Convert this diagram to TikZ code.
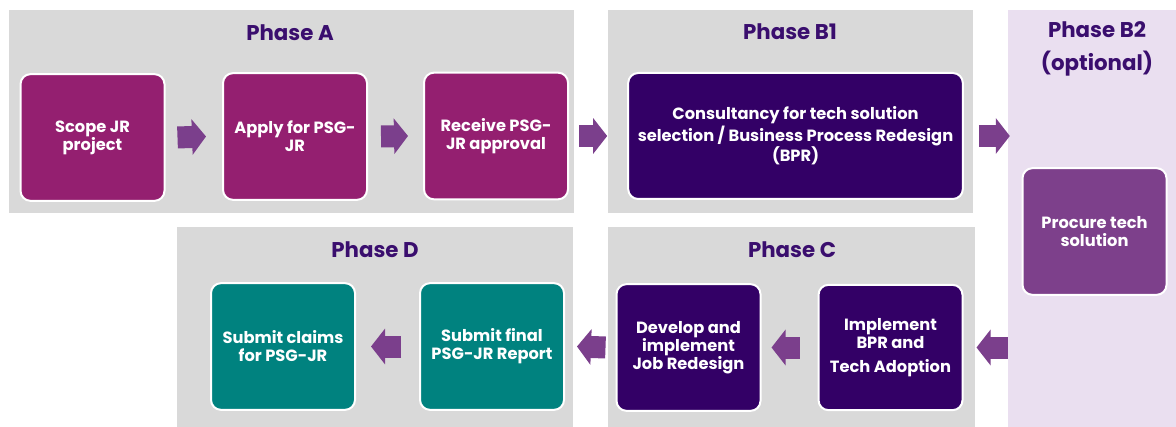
\documentclass[tikz,border=0pt]{standalone}
\usepackage{fontspec}
\setmainfont{Poppins}
\usepackage{tikz}
\usetikzlibrary{arrows.meta}
\definecolor{bggrey}{HTML}{D9D9D9}
\definecolor{bglilac}{HTML}{EADFF0}
\definecolor{plum}{HTML}{941F70}
\definecolor{indigo}{HTML}{330066}
\definecolor{mauve}{HTML}{7D408B}
\definecolor{petrol}{HTML}{00827F}
\definecolor{titlecol}{HTML}{3A0E6E}
\definecolor{arrowcol}{HTML}{7B3F8C}

\begin{document}
\begin{tikzpicture}[x=0.75pt,y=-0.75pt,
    box/.style={draw=white,line width=1.5pt,rounded corners=7.5pt,text=white,
      font=\bfseries\fontsize{12.2}{13.5}\selectfont,align=center,
      minimum width=108pt,minimum height=95pt,inner sep=2pt},
    phase/.style={text=titlecol,font=\bfseries\fontsize{16}{24.75}\selectfont,
      align=center,inner sep=0pt},
    flow/.style={arrowcol,line width=16.5pt,-{Triangle[width=26.25pt,length=10.5pt]}}]
    \useasboundingbox (0,0) rectangle (1176,427);

    % phase panels
    \fill[bggrey] (9,10) rectangle (574,213);
    \fill[bggrey] (608,10) rectangle (973,213);
    \fill[bglilac] (1008,10) rectangle (1176,427);
    \fill[bggrey] (177,227) rectangle (573,427);
    \fill[bggrey] (608,227) rectangle (975,427);

    \node[phase] (pa) at (290,33) {Phase A};
    \node[phase] (pb1) at (790,32) {Phase B1};
    \node[phase] (pb2) at (1097,48.5) {Phase B2\\(optional)};
    \node[phase] (pd) at (375,250) {Phase D};
    \node[phase] (pc) at (792,250) {Phase C};

    % top row
    \node[box,fill=plum] (a1) at (92.5,137.5) {Scope JR\\project};
    \node[box,fill=plum] (a2) at (295,136.5) {Apply for PSG-\\JR};
    \node[box,fill=plum] (a3) at (496,136) {Receive PSG-\\JR approval};
    \node[box,fill=indigo,minimum width=251pt,minimum height=94.5pt] (b1) at (795.5,136) {
      Consultancy for tech solution\\
      selection / Business Process Redesign\\
      (BPR)
    };
    \node[box,fill=mauve] (b2) at (1094.5,231.5) {Procure tech\\solution};

    % bottom row
    \node[box,fill=indigo,minimum height=94pt] (c2) at (890.5,347.5) {Implement\\BPR and\\[5pt]Tech Adoption};
    \node[box,fill=indigo] (c1) at (688.5,347.5) {Develop and\\implement\\Job Redesign};
    \node[box,fill=petrol] (d2) at (492,346.5) {Submit final\\PSG-JR Report};
    \node[box,fill=petrol] (d1) at (283,346.5) {Submit claims\\for PSG-JR};

    % block arrows
    \draw[flow] ([xshift=9pt]a1.east) -- ([xshift=-12pt]a2.west);
    \draw[flow] ([xshift=9.75pt]a2.east) -- ([xshift=-11.25pt]a3.west);
    \draw[flow] ([xshift=7.5pt]a3.east) -- ([xshift=-15pt]b1.west);
    \draw[flow] ([xshift=11.25pt]b1.east) -- ++(31,0);
    \draw[flow] ([xshift=33pt]c2.east) -- ([xshift=9.75pt]c2.east);
    \draw[flow] ([xshift=-13.5pt]c2.west) -- ([xshift=7.5pt]c1.east);
    \draw[flow] ([xshift=-7.5pt]c1.west) -- ([xshift=9pt]d2.east);
    \draw[flow] ([xshift=-13.5pt]d2.west) -- ([xshift=11.25pt]d1.east);

\end{tikzpicture}
\end{document}
